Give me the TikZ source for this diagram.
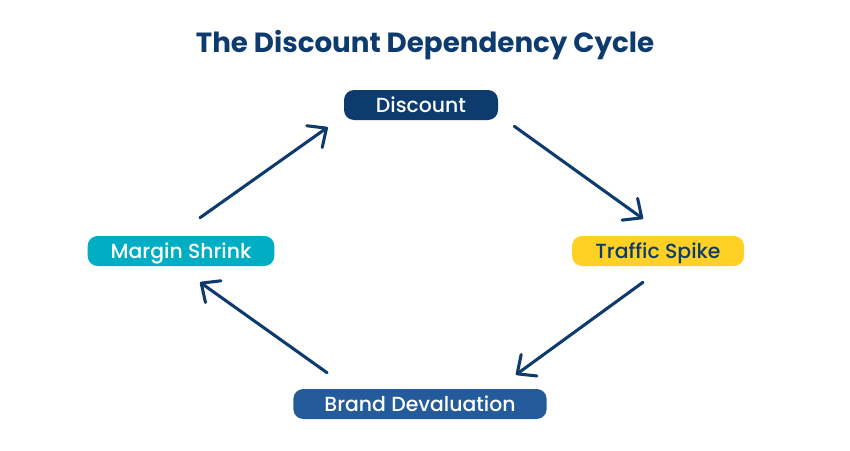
\documentclass[tikz,border=0pt]{standalone}
\usepackage{fontspec}
\setmainfont{Poppins}
\newfontfamily\stagefont{Poppins Medium}
\usepackage{tikz}
\usetikzlibrary{arrows.meta,calc}

\definecolor{navy}{HTML}{0D3B6E}
\definecolor{midblue}{HTML}{245C9B}
\definecolor{teal}{HTML}{00AEC3}
\definecolor{sun}{HTML}{FFD124}

\begin{document}
\begin{tikzpicture}[x=0.75pt, y=-0.75pt,
    stage/.style={rounded corners=7.5pt, minimum height=22.5pt, inner sep=0pt,
      text height=11pt, text depth=0.3pt,
      font=\stagefont\fontsize{15.3}{17}\selectfont, text=white},
    flow/.style={-{Straight Barb[length=11pt,width=20pt,line cap=round,line join=round]},
      line width=2.3pt, line cap=round, navy}]

  \useasboundingbox (0,0) rectangle (850,450);

  \node (title) at (425,45) {\fontsize{20.8}{24}\selectfont\bfseries\color{navy}The Discount Dependency Cycle};

  \node [stage, fill=navy, minimum width=115.5pt] (disc) at (421,105) {Discount};
  \node [stage, fill=sun, text=navy, minimum width=129pt] (spike) at (658,251) {Traffic Spike};
  \node [stage, fill=midblue, minimum width=190pt] (brand) at (420,404) {Brand Devaluation};
  \node [stage, fill=teal, minimum width=140pt] (margin) at (181,251) {Margin Shrink};

  \draw [flow] ($(disc.south east)+(16,6)$) -- ($(spike.north)+(-15,-17)$);
  \draw [flow] ($(spike.south)+(-15,16)$) -- ($(brand.north east)+(-31,-14)$);
  \draw [flow] ($(brand.north west)+(34,-16)$) -- ($(margin.south)+(19,16)$);
  \draw [flow] ($(margin.north)+(19,-18)$) -- ($(disc.south west)+(-16,7)$);

\end{tikzpicture}
\end{document}
